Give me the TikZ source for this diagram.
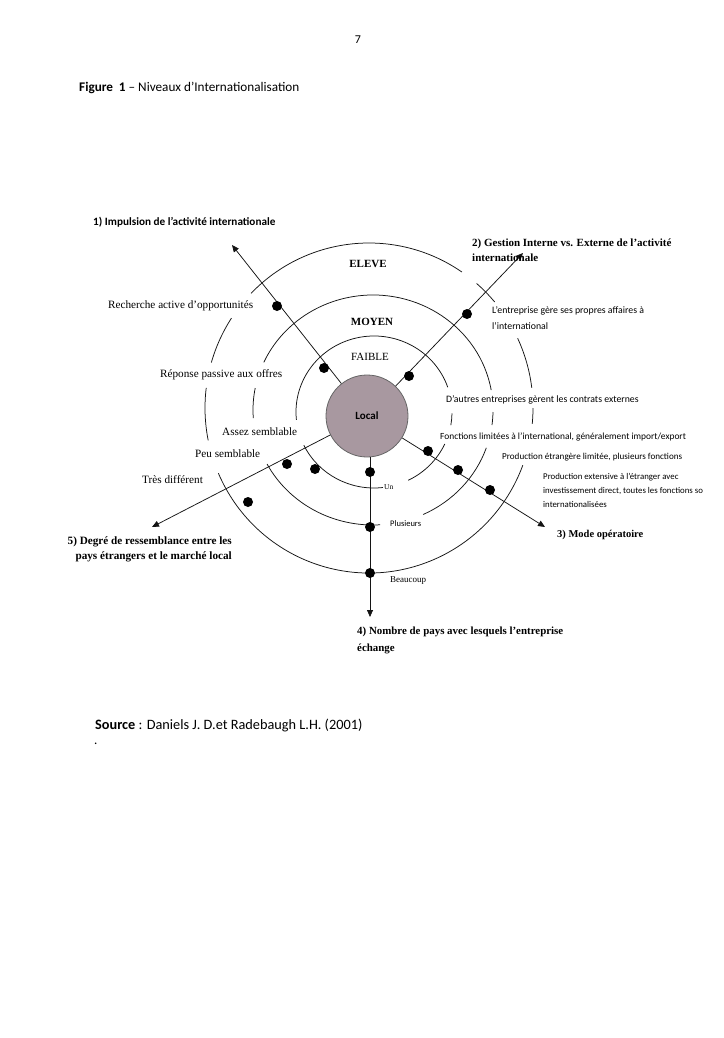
\documentclass[tikz,border=0pt]{standalone}
\usepackage{fontspec}
\setmainfont{Liberation Serif}
\newfontfamily\calib{Carlito}
\usetikzlibrary{arrows.meta,calc}
\definecolor{localfill}{RGB}{168,152,160}
\definecolor{ink}{RGB}{20,20,20}
\newcommand\ringarc[6]{%
  \draw[ringline] ($(#1,#2)+(#5:#3pt and #4pt)$) arc[start angle=#5, end angle=#6, x radius=#3pt, y radius=#4pt];}
\begin{document}
\begin{tikzpicture}[x=1pt,y=1pt,
  ringline/.style={draw=ink, line width=0.75pt},
  axisline/.style={draw=ink, line width=0.75pt, -{Triangle[length=7pt,width=6pt]}},
  dot/.style={circle, fill=black, inner sep=0pt, minimum size=10pt},
  serif/.style={inner sep=0pt, font=\fontsize{11.2}{13}\selectfont},
  sans/.style={inner sep=0pt, font=\calib\fontsize{9.8}{16}\selectfont},
  head/.style={inner sep=0pt, font=\bfseries\fontsize{10.5}{15}\selectfont},
  ringlbl/.style={inner sep=0pt, font=\fontsize{11}{13}\selectfont}]
\useasboundingbox (0,0) rectangle (723,-1038);
\fill[white] (0,0) rectangle (723,-1038);

% page header
\node[inner sep=0pt, font=\calib\fontsize{12}{14}\selectfont] (pagenum) at (358,-40) {7};
\node[anchor=west, inner sep=0pt, font=\calib\fontsize{13.2}{15}\selectfont] (title) at (79,-88) {\textbf{Figure\ \ 1} – Niveaux d’Internationalisation};

% rings: ELEVE
\ringarc{369}{-408}{164}{165}{55.5}{136}
\ringarc{369}{-408}{164}{165}{147}{164}
\ringarc{369}{-408}{164}{165}{173}{191.3}
\ringarc{369}{-408}{164}{165}{203.3}{339.7}
\ringarc{369}{-408}{164}{165}{-5.5}{0}
\ringarc{369}{-408}{164}{165}{7}{25}
\ringarc{369}{-408}{164}{165}{40}{49}
% MOYEN
\ringarc{373}{-410}{120}{115}{10}{155.5}
\ringarc{373}{-410}{120}{115}{169}{184}
\ringarc{373}{-410}{120}{115}{208}{273.4}
\ringarc{373}{-410}{120}{115}{-65.3}{-19.2}
\ringarc{373}{-410}{120}{115}{-7.5}{-1}
% FAIBLE
\ringarc{374}{-412}{78}{76}{19}{186}
\ringarc{374}{-412}{78}{76}{205.9}{276.6}
\ringarc{374}{-412}{78}{76}{-64}{-24.9}
\ringarc{374}{-412}{78}{76}{-10}{-1}

\node[ringlbl, font=\bfseries\fontsize{11}{13}\selectfont] (eleve) at (368,-264) {ELEVE};
\node[ringlbl, font=\bfseries\fontsize{11}{13}\selectfont] (moyen) at (372,-322) {MOYEN};
\node[ringlbl] (faible) at (370,-357) {FAIBLE};

% centre
\node[circle, draw=black!60, line width=0.8pt, fill=localfill, minimum size=82pt, inner sep=0pt,
      font=\calib\bfseries\fontsize{11}{13}\selectfont] (local) at (367,-416) {Local};

% arrow tips
\coordinate (tip1) at (232,-245);
\coordinate (tip2) at (523,-253);
\coordinate (tip3) at (545,-527);
\coordinate (tip4) at (370,-617);
\coordinate (tip5) at (152,-527);

\draw[axisline] (local) -- (tip1);
\draw[axisline] (local) -- (tip2);
\draw[axisline] (local) -- (tip3);
\draw[axisline] (local.south -| tip4) -- (tip4);
\draw[axisline] (local) -- (tip5);

% dots
\node[dot] (d1a) at (277,-306) {};
\node[dot] (d1b) at (324,-368) {};
\node[dot] (d2a) at (467,-314) {};
\node[dot] (d2b) at (409,-376) {};
\node[dot] (d3a) at (428,-451) {};
\node[dot] (d3b) at (458,-470) {};
\node[dot] (d3c) at (490,-490) {};
\node[dot] (d4a) at (370,-472) {};
\node[dot] (d4b) at (370,-527) {};
\node[dot] (d4c) at (370,-573) {};
\node[dot] (d5a) at (287,-464) {};
\node[dot] (d5b) at (315,-469) {};
\node[dot] (d5c) at (248,-502) {};

% axis titles
\node[anchor=west, inner sep=0pt, font=\calib\bfseries\fontsize{11.2}{13}\selectfont] (lbl1) at (93,-222) {1) Impulsion de l’activité internationale};
\node[head, anchor=north west, align=left, font=\bfseries\fontsize{11}{15}\selectfont] (lbl2) at (472,-239) {2) Gestion Interne vs. Externe de l’activité\\internationale};
\node[head, anchor=west] (lbl3) at (557,-535) {3) Mode opératoire};
\node[head, anchor=north west, align=left, font=\bfseries\fontsize{10.9}{17}\selectfont] (lbl4) at (357,-627) {4) Nombre de pays avec lesquels l’entreprise\\échange};
\node[head, anchor=north east, align=right, font=\bfseries\fontsize{11.2}{14.5}\selectfont] (lbl5) at (232,-537) {5) Degré de ressemblance entre les\\pays étrangers et le marché local};

% left labels
\node[serif, anchor=west] (rech) at (108,-306) {Recherche active d’opportunités};
\node[serif, anchor=west] (repo) at (160,-375) {Réponse passive aux offres};
\node[serif, anchor=west] (assez) at (222,-432) {Assez semblable};
\node[serif, anchor=west] (peu) at (195,-454) {Peu semblable};
\node[serif, anchor=west] (tres) at (142,-480) {Très différent};

% right labels
\node[sans, anchor=north west, align=left] (propres) at (492,-306) {L’entreprise gère ses propres affaires à\\l’international};
\node[sans, anchor=west] (dautres) at (446,-400) {D’autres entreprises gèrent les contrats externes};
\node[sans, anchor=west, font=\calib\fontsize{9.4}{14}\selectfont] (fonct) at (440,-437) {Fonctions limitées à l’international, généralement import/export};
\node[sans, anchor=west, font=\calib\fontsize{9.1}{14}\selectfont] (prodlim) at (502,-457) {Production étrangère limitée, plusieurs fonctions};
\node[sans, anchor=north west, align=left, font=\calib\fontsize{8.8}{14}\selectfont] (prodext) at (543,-473) {Production extensive à l’étranger avec\\investissement direct, toutes les fonctions so\\internationalisées};

% axis 4 labels
\node[inner sep=0pt, anchor=west, font=\fontsize{7.5}{8}\selectfont] (un) at (384,-487) {Un};
\node[inner sep=0pt, anchor=west, font=\calib\fontsize{8.5}{9}\selectfont] (plus) at (390,-524) {Plusieurs};
\node[inner sep=0pt, anchor=west, font=\fontsize{9}{10}\selectfont] (beauc) at (390,-581) {Beaucoup};

% source
\node[anchor=west, inner sep=0pt, font=\calib\fontsize{14.3}{16}\selectfont] (source) at (95,-725) {\textbf{Source} : Daniels J. D.et Radebaugh L.H. (2001)};
\node[anchor=west, inner sep=0pt, font=\calib\fontsize{13}{15}\selectfont] (period) at (94,-744) {.};
\end{tikzpicture}
\end{document}
